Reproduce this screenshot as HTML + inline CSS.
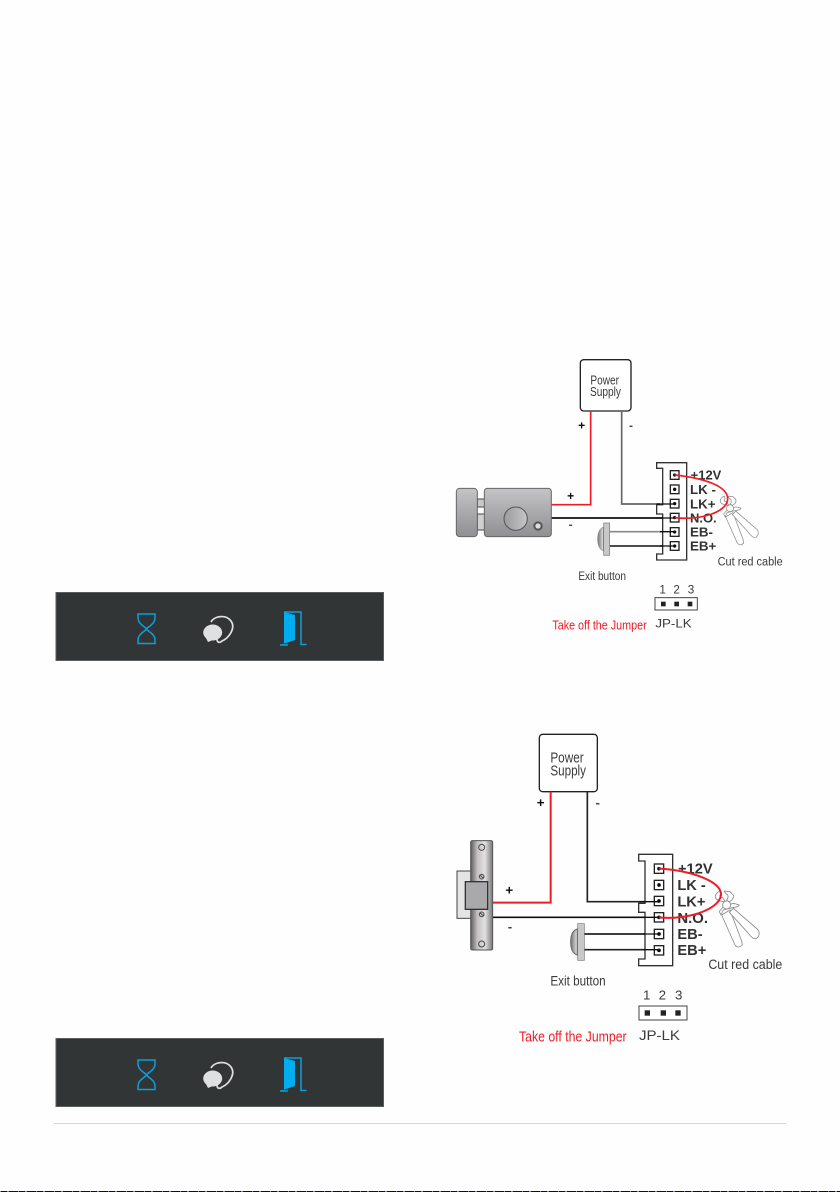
<!DOCTYPE html>
<html>
<head>
<meta charset="utf-8">
<style>
html,body{margin:0;padding:0;background:#fefefe;}
svg{display:block;}
text{font-family:"Liberation Sans",sans-serif;}
.lb{font-weight:bold;fill:#333;}
.t{fill:#3a3a3a;}
</style>
</head>
<body>
<svg width="840" height="1192" viewBox="0 0 840 1192" xmlns="http://www.w3.org/2000/svg">
<defs>
<linearGradient id="lockg" x1="0" y1="0" x2="0" y2="1"><stop offset="0" stop-color="#c4c4c6"/><stop offset="1" stop-color="#8f8f91"/></linearGradient>
<linearGradient id="knob" x1="0" y1="0" x2="1" y2="0"><stop offset="0" stop-color="#9b9b9d"/><stop offset="1" stop-color="#c6c6c8"/></linearGradient>
<linearGradient id="plate" x1="0" y1="0" x2="1" y2="0"><stop offset="0" stop-color="#5f5b5b"/><stop offset=".3" stop-color="#c2c0c0"/><stop offset=".65" stop-color="#e2e0e0"/><stop offset="1" stop-color="#777"/></linearGradient>
<linearGradient id="dome" x1="0" y1="0" x2="1" y2="0"><stop offset="0" stop-color="#777"/><stop offset=".5" stop-color="#aaa"/><stop offset="1" stop-color="#e4e4e4"/></linearGradient>
<filter id="soft" x="-2%" y="-2%" width="104%" height="104%"><feGaussianBlur stdDeviation="1"/></filter>
<filter id="soft2" x="-5%" y="-5%" width="110%" height="110%"><feGaussianBlur stdDeviation="0.35"/></filter>
<g id="cutter" fill="#fff" stroke="#8a8a8a" stroke-width="2.500" stroke-linejoin="round">
<path d="M845,570L885,660Q895,672 907,660L905,648L870,555Z"/>
<path d="M880,550L955,615Q962,630 950,640Q940,645 925,625L868,562Z"/>
<path d="M843,570L850,555L870,550L893,545L898,540L880,535L850,545L838,560Z"/>
<circle cx="860" cy="540" r="12"/>
<path d="M850,530C838,528 826,525 826,515C826,508 832,502 840,498L843,506C838,510 838,516 848,518L855,528Z"/>
<path d="M868,530C878,525 882,518 880,510L870,500L852,498L858,506C866,510 866,518 860,526Z"/>
</g>
<g id="bar" filter="url(#soft2)">
<rect x="56" y="592.5" width="327.5" height="68" fill="#333436" stroke="#5a5b5d" stroke-width="1"/>
<path d="M138,614H155V618C155,624 147.500,627 146.500,629C147.500,631 155,634 155,640V643.500H138V640C138,634 145.500,631 146.500,629C145.500,627 138,624 138,618Z" fill="none" stroke="#0b9fdc" stroke-width="1.500"/>
<ellipse cx="212.700" cy="632.500" rx="9.500" ry="8" fill="#dfe0e2"/>
<path d="M206,638l2,4l5,-2z" fill="#dfe0e2"/>
<path d="M211,622C214,616 226,614 231,621C236,628 229,638 222,641C220,643 217,643 217,639" fill="none" stroke="#dfe0e2" stroke-width="1.700"/>
<path d="M284,612H301V644.500H306.500" fill="none" stroke="#0b9fdc" stroke-width="1.500"/>
<path d="M284,612L295,615V640L280,645H284Z" fill="#00aeef"/>
<path d="M280,645H288" stroke="#0b9fdc" stroke-width="1.500"/>
</g>
</defs>

<use href="#bar"/>
<use href="#bar" y="446"/>

<rect x="54" y="1123" width="732" height="1" fill="#d6d6d6"/>
<rect x="0" y="1191" width="840" height="1" fill="#111"/>
<line x1="0" y1="1191.500" x2="840" y2="1191.500" stroke="#8a8a9a" stroke-width="1" stroke-dasharray="1 6 2 9"/>

<!-- Diagram 1 -->
<g transform="translate(440,350) scale(.33333)" filter="url(#soft)">
<rect x="421" y="29" width="152" height="154" rx="10" fill="#fff" stroke="#222" stroke-width="4"/>
<text x="451" y="104" font-size="38" class="t" textLength="86" lengthAdjust="spacingAndGlyphs">Power</text>
<text x="450" y="138" font-size="38" class="t" textLength="93" lengthAdjust="spacingAndGlyphs">Supply</text>
<path d="M545,183V462H660" fill="none" stroke="#666" stroke-width="5"/>
<path d="M452,183V464H335" fill="none" stroke="#ee1c25" stroke-width="5"/>
<path d="M335,504H704" fill="none" stroke="#111" stroke-width="5"/>
<path d="M510,545H704" stroke="#888" stroke-width="5"/>
<path d="M510,588H704" stroke="#333" stroke-width="5"/>
<text x="425" y="238" font-size="36" font-weight="bold" text-anchor="middle" fill="#111">+</text>
<text x="573" y="238" font-size="36" font-weight="bold" text-anchor="middle" fill="#444">-</text>
<text x="392" y="450" font-size="36" font-weight="bold" text-anchor="middle" fill="#111">+</text>
<text x="392" y="536" font-size="36" font-weight="bold" text-anchor="middle" fill="#444">-</text>
<!-- lock -->
<rect x="112" y="447" width="22" height="24" fill="#c8c8c8" stroke="#444" stroke-width="3"/>
<rect x="112" y="492" width="22" height="48" fill="#d0d0d0" stroke="#444" stroke-width="3"/>
<rect x="49" y="415" width="63" height="145" rx="10" fill="url(#lockg)" stroke="#666" stroke-width="3"/>
<rect x="133" y="415" width="201" height="145" rx="9" fill="url(#lockg)" stroke="#666" stroke-width="3"/>
<circle cx="227" cy="506" r="35" fill="url(#knob)" stroke="#555" stroke-width="3"/>
<circle cx="294" cy="528" r="11" fill="#ddd" stroke="#555" stroke-width="6"/>
<!-- button -->
<path d="M490,532C478,535 473,550 473,567C473,585 478,598 490,602Z" fill="url(#dome)" stroke="#888" stroke-width="2"/>
<rect x="491" y="519" width="18" height="97" fill="#c8c8c8" stroke="#777" stroke-width="2"/>
<!-- connector -->
<path d="M650,338H740V630H650V612H668V492H650V464H668V355H650Z" fill="#fff" stroke="#333" stroke-width="4"/>
<g fill="#fff" stroke="#222" stroke-width="4">
<rect x="691" y="362" width="26" height="26"/><rect x="691" y="405" width="26" height="26"/><rect x="691" y="448" width="26" height="26"/><rect x="691" y="490" width="26" height="26"/><rect x="691" y="533" width="26" height="26"/><rect x="691" y="575" width="26" height="26"/>
</g>
<g fill="#111">
<circle cx="704" cy="375" r="5"/><circle cx="704" cy="418" r="5"/><circle cx="704" cy="461" r="5"/><circle cx="704" cy="503" r="5"/><circle cx="704" cy="546" r="5"/><circle cx="704" cy="588" r="5"/>
</g>
<path d="M650,462H704M660,504H704M660,545H704M660,588H704" stroke="#111" stroke-width="4" fill="none"/>
<text x="752" y="389" font-size="40" class="lb" textLength="92" lengthAdjust="spacingAndGlyphs">+12V</text>
<text x="750" y="432" font-size="40" class="lb">LK -</text>
<text x="750" y="475" font-size="40" class="lb">LK+</text>
<text x="750" y="518" font-size="40" class="lb" textLength="80" lengthAdjust="spacingAndGlyphs">N.O.</text>
<text x="750" y="560" font-size="40" class="lb">EB-</text>
<text x="750" y="602" font-size="40" class="lb">EB+</text>
<!-- cutters -->
<use href="#cutter" transform="translate(122,5) scale(.87)"/>
<path d="M704,375C790,384 865,408 863,448C860,488 780,511 704,503" fill="none" stroke="#ee1c25" stroke-width="5"/>
<text x="833" y="646" font-size="36" class="t" textLength="195" lengthAdjust="spacingAndGlyphs">Cut red cable</text>
<text x="415" y="690" font-size="36" class="t" textLength="143" lengthAdjust="spacingAndGlyphs">Exit button</text>
<text x="668" y="730" font-size="35" class="t" text-anchor="middle">1</text>
<text x="710" y="730" font-size="35" class="t" text-anchor="middle">2</text>
<text x="753" y="730" font-size="35" class="t" text-anchor="middle">3</text>
<rect x="645" y="743" width="127" height="37" fill="#fff" stroke="#444" stroke-width="3"/>
<rect x="663" y="755" width="14" height="14" fill="#222"/><rect x="703" y="755" width="14" height="14" fill="#222"/><rect x="743" y="755" width="14" height="14" fill="#222"/>
<text x="337" y="838" font-size="38" fill="#ee1c25" textLength="283" lengthAdjust="spacingAndGlyphs">Take off the Jumper</text>
<text x="646" y="833" font-size="37" class="t" textLength="109" lengthAdjust="spacingAndGlyphs">JP-LK</text>
</g>

<!-- Diagram 2 -->
<g transform="translate(440,725) scale(.33333)" filter="url(#soft)">
<rect x="298" y="28" width="174" height="172" rx="10" fill="#fff" stroke="#222" stroke-width="4"/>
<text x="331" y="112" font-size="44" class="t" textLength="100" lengthAdjust="spacingAndGlyphs">Power</text>
<text x="331" y="152" font-size="44" class="t" textLength="107" lengthAdjust="spacingAndGlyphs">Supply</text>
<path d="M442,200V530H657" fill="none" stroke="#222" stroke-width="5"/>
<path d="M332,200V533H158" fill="none" stroke="#ee1c25" stroke-width="6"/>
<path d="M158,577H657" fill="none" stroke="#111" stroke-width="5"/>
<path d="M433,627H657M433,674H657" fill="none" stroke="#222" stroke-width="5"/>
<text x="302" y="246" font-size="40" font-weight="bold" text-anchor="middle" fill="#111">+</text>
<text x="473" y="246" font-size="40" font-weight="bold" text-anchor="middle" fill="#444">-</text>
<text x="208" y="508" font-size="40" font-weight="bold" text-anchor="middle" fill="#111">+</text>
<text x="210" y="618" font-size="40" font-weight="bold" text-anchor="middle" fill="#444">-</text>
<!-- strike -->
<rect x="51" y="438" width="50" height="142" fill="#e4e4e4" stroke="#444" stroke-width="3"/>
<rect x="92" y="347" width="66" height="328" rx="5" fill="url(#plate)" stroke="#555" stroke-width="3"/>
<rect x="76" y="470" width="67" height="83" fill="#a9a9ab" stroke="#333" stroke-width="4"/>
<g fill="none" stroke="#444" stroke-width="3">
<circle cx="125" cy="367" r="9"/><circle cx="125" cy="657" r="9"/>
<circle cx="125" cy="455" r="7"/><circle cx="125" cy="568" r="7"/>
<path d="M120,451l10,8M120,564l10,8"/>
</g>
<!-- button -->
<path d="M412,612C398,616 392,632 392,651C392,670 398,686 412,690Z" fill="url(#dome)" stroke="#666" stroke-width="3"/>
<rect x="413" y="596" width="20" height="110" fill="#c8c8c8" stroke="#777" stroke-width="2"/>
<!-- connector -->
<path d="M596,388H698V722H596V702H615V562H596V535H615V408H596Z" fill="#fff" stroke="#333" stroke-width="4"/>
<g fill="#fff" stroke="#222" stroke-width="4">
<rect x="643" y="417" width="28" height="28"/><rect x="643" y="466" width="28" height="28"/><rect x="643" y="514" width="28" height="28"/><rect x="643" y="563" width="28" height="28"/><rect x="643" y="613" width="28" height="28"/><rect x="643" y="662" width="28" height="28"/>
</g>
<g fill="#111">
<circle cx="657" cy="431" r="5.500"/><circle cx="657" cy="480" r="5.500"/><circle cx="657" cy="528" r="5.500"/><circle cx="657" cy="577" r="5.500"/><circle cx="657" cy="627" r="5.500"/><circle cx="657" cy="676" r="5.500"/>
</g>
<path d="M600,530H657M610,577H657M610,627H657M610,674H657" stroke="#111" stroke-width="4" fill="none"/>
<text x="714" y="446" font-size="44" class="lb" textLength="104" lengthAdjust="spacingAndGlyphs">+12V</text>
<text x="712" y="495" font-size="44" class="lb">LK -</text>
<text x="712" y="545" font-size="44" class="lb">LK+</text>
<text x="712" y="594" font-size="44" class="lb" textLength="92" lengthAdjust="spacingAndGlyphs">N.O.</text>
<text x="712" y="642" font-size="44" class="lb">EB-</text>
<text x="712" y="690" font-size="44" class="lb">EB+</text>
<!-- cutters -->
<use href="#cutter"/>
<path d="M657,431C750,436 845,468 843,510C838,556 735,586 657,577" fill="none" stroke="#ee1c25" stroke-width="6"/>
<text x="805" y="732" font-size="41" class="t" textLength="222" lengthAdjust="spacingAndGlyphs">Cut red cable</text>
<text x="331" y="782" font-size="41" class="t" textLength="166" lengthAdjust="spacingAndGlyphs">Exit button</text>
<text x="620" y="824" font-size="40" class="t" text-anchor="middle">1</text>
<text x="667" y="824" font-size="40" class="t" text-anchor="middle">2</text>
<text x="716" y="824" font-size="40" class="t" text-anchor="middle">3</text>
<rect x="597" y="843" width="144" height="42" fill="#fff" stroke="#444" stroke-width="3"/>
<rect x="614" y="856" width="16" height="16" fill="#222"/><rect x="662" y="856" width="16" height="16" fill="#222"/><rect x="706" y="856" width="16" height="16" fill="#222"/>
<text x="237" y="950" font-size="44" fill="#ee1c25" textLength="323" lengthAdjust="spacingAndGlyphs">Take off the Jumper</text>
<text x="597" y="945" font-size="42" class="t" textLength="123" lengthAdjust="spacingAndGlyphs">JP-LK</text>
</g>
</svg>
</body>
</html>
